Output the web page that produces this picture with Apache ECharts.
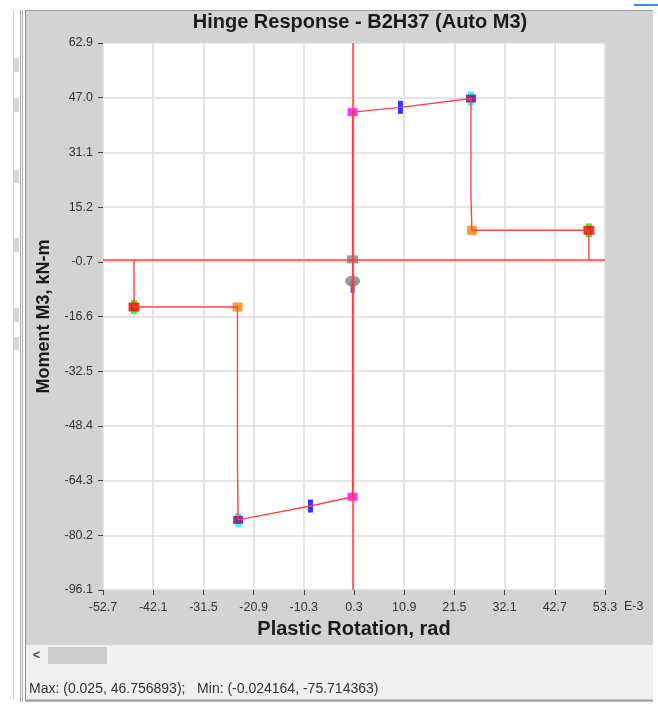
<!DOCTYPE html>
<html>
<head>
<meta charset="utf-8">
<title>Hinge Response - B2H37</title>
<script src="https://cdn.jsdelivr.net/npm/echarts@6/dist/echarts.min.js"></script>
<style>
  html, body { margin: 0; padding: 0; background: #fff; }
  #chart { width: 658px; height: 704px; }
</style>
</head>
<body>
<div id="chart"></div>
<script>
// 刻度 (x in E-3 rad, y in kN-m)
var xTicks = [-52.7, -42.1, -31.5, -20.9, -10.3, 0.3, 10.9, 21.5, 32.1, 42.7, 53.3];
var yTicks = [62.9, 47.0, 31.1, 15.2, -0.7, -16.6, -32.5, -48.4, -64.3, -80.2, -96.1];

// hinge path (rotation E-3, moment)
var hingePath = [
  [-46.15, 0], [-46.15, -13.84], [-24.3, -13.84], [-24.3, -59.8], [-24.164, -75.714],
  [-8.9, -71.7], [0, -69.0], [0, 42.8], [10.1, 44.2], [25.0, 46.757],
  [25.0, 18.1], [25.2, 8.45], [49.9, 8.45], [49.9, 0]
];

// point markers
var magentaPts = [[0, 42.8], [0, -69.0]];
var bluePts = [[10.1, 44.2], [-8.9, -71.7]];
var cyanPts = [[25.0, 46.757], [-24.164, -75.714]];
var purplePts = [[25.0, 46.757], [-24.164, -75.714]];
var orangePts = [[25.2, 8.45], [-24.3, -13.84]];
var greenPts = [[49.9, 8.45], [-46.15, -13.84]];
var redPts = [[49.9, 8.45], [-46.15, -13.84]];
var originPt = [[0, 0]];
var currentPt = [[0, -6.3]];
var currentBar = [[0, -8.0]];

var statusText = 'Max: (0.025, 46.756893);   Min: (-0.024164, -75.714363)';

var FONT = '"Liberation Sans", Arial, sans-serif';
var chart = echarts.init(document.getElementById('chart'));

function marker(data, color, size) {
  return {
    type: 'scatter',
    data: data,
    symbol: 'rect',
    symbolSize: size,
    itemStyle: { color: color },
    silent: true
  };
}

var option = {
  backgroundColor: '#d3d3d3',
  animation: false,
  title: {
    text: 'Hinge Response - B2H37 (Auto M3)',
    left: 355,
    top: 7,
    textAlign: 'center',
    textStyle: { fontFamily: FONT, fontSize: 20, fontWeight: 'bold', color: '#1a1a1a' }
  },
  grid: {
    left: 103, right: 53, top: 43, bottom: 114,
    show: true, backgroundColor: '#ffffff', borderWidth: 0
  },
  xAxis: {
    type: 'value',
    min: -52.7, max: 53.3,
    name: 'Plastic Rotation, rad',
    nameLocation: 'middle',
    nameGap: 29,
    nameTextStyle: { fontFamily: FONT, fontSize: 20, fontWeight: 'bold', color: '#1a1a1a' },
    axisLine: { show: false, onZero: false },
    axisTick: { show: true, length: 5, customValues: xTicks, lineStyle: { color: '#444' } },
    axisLabel: {
      customValues: xTicks, margin: 11,
      fontFamily: FONT, fontSize: 12.5, color: '#333',
      formatter: function (v) { return v.toFixed(1); }
    },
    splitLine: { show: true, lineStyle: { color: '#dcdcdc', width: 1.5 } }
  },
  yAxis: {
    type: 'value',
    min: -96.1, max: 62.9,
    name: 'Moment M3, kN-m',
    nameLocation: 'middle',
    nameGap: 50,
    nameTextStyle: { fontFamily: FONT, fontSize: 18, fontWeight: 'bold', color: '#1a1a1a' },
    axisLine: { show: false, onZero: false },
    axisTick: { show: true, length: 5, customValues: yTicks, lineStyle: { color: '#444' } },
    axisLabel: {
      customValues: yTicks, margin: 10,
      fontFamily: FONT, fontSize: 12.5, color: '#333',
      formatter: function (v) { return v.toFixed(1); }
    },
    splitLine: { show: true, lineStyle: { color: '#dcdcdc', width: 1.5 } }
  },
  series: [
    {
      type: 'line',
      data: hingePath,
      showSymbol: false,
      silent: true,
      lineStyle: { color: '#ff4444', width: 1.4 },
      markLine: {
        silent: true,
        symbol: ['none', 'none'],
        label: { show: false },
        lineStyle: { color: '#ff3b3b', width: 1.5, type: 'solid' },
        data: [{ xAxis: 0 }, { yAxis: 0 }]
      }
    },
    marker(cyanPts, '#00ffff', [6, 14]),
    marker(greenPts, '#00ff00', [6, 14]),
    marker(magentaPts, '#ff00ff', [10, 8]),
    marker(bluePts, '#0000ff', [5, 13]),
    marker(purplePts, '#800080', [10, 8]),
    marker(orangePts, '#ff8000', [10, 9]),
    marker(redPts, '#ff0000', [11, 9]),
    marker(originPt, '#808080', [11, 8]),
    marker(currentBar, '#3c1ccc', [4, 12]),
    {
      type: 'scatter',
      data: currentPt,
      symbol: 'circle',
      symbolSize: [15, 11],
      itemStyle: { color: '#808080' },
      silent: true
    }
  ],
  graphic: [
    // window chrome
    { type: 'rect', shape: { x: 0, y: 0, width: 658, height: 10 }, style: { fill: '#fff' } },
    { type: 'rect', shape: { x: 0, y: 0, width: 25, height: 704 }, style: { fill: '#fff' } },
    { type: 'rect', shape: { x: 653, y: 0, width: 5, height: 704 }, style: { fill: '#fff' } },
    { type: 'rect', shape: { x: 634, y: 4, width: 24, height: 2 }, style: { fill: '#3d8ee0' } },
    { type: 'line', shape: { x1: 25, y1: 10.5, x2: 653, y2: 10.5 }, style: { stroke: '#9a9a9a', lineWidth: 1 } },
    { type: 'line', shape: { x1: 13.5, y1: 10, x2: 13.5, y2: 700 }, style: { stroke: '#cfcfcf', lineWidth: 1 } },
    { type: 'line', shape: { x1: 20.5, y1: 10, x2: 20.5, y2: 704 }, style: { stroke: '#a8a8a8', lineWidth: 1 } },
    { type: 'line', shape: { x1: 22.5, y1: 10, x2: 22.5, y2: 704 }, style: { stroke: '#a8a8a8', lineWidth: 1 } },
    { type: 'line', shape: { x1: 25.5, y1: 10, x2: 25.5, y2: 700 }, style: { stroke: '#909090', lineWidth: 1 } },
    { type: 'rect', shape: { x: 14, y: 58, width: 5, height: 14 }, style: { fill: '#d6d6d6' } },
    { type: 'rect', shape: { x: 14, y: 98, width: 5, height: 14 }, style: { fill: '#d6d6d6' } },
    { type: 'rect', shape: { x: 14, y: 170, width: 5, height: 13 }, style: { fill: '#d6d6d6' } },
    { type: 'rect', shape: { x: 14, y: 238, width: 5, height: 14 }, style: { fill: '#d6d6d6' } },
    { type: 'rect', shape: { x: 14, y: 308, width: 5, height: 14 }, style: { fill: '#d6d6d6' } },
    { type: 'rect', shape: { x: 14, y: 337, width: 5, height: 13 }, style: { fill: '#d6d6d6' } },
    // scroll bar
    { type: 'rect', shape: { x: 26, y: 645, width: 627, height: 24 }, style: { fill: '#f0f0f0' } },
    { type: 'rect', shape: { x: 48, y: 647, width: 59, height: 17 }, style: { fill: '#cdcdcd' } },
    { type: 'text', x: 33, y: 656, style: { text: '<', fill: '#444', font: 'bold 12px ' + FONT, verticalAlign: 'middle' } },
    // status bar
    { type: 'rect', shape: { x: 26, y: 669, width: 627, height: 31 }, style: { fill: '#f0f0f0' } },
    { type: 'text', x: 29, y: 689, style: { text: statusText, fill: '#333', font: '14px ' + FONT, verticalAlign: 'middle' } },
    { type: 'line', shape: { x1: 25, y1: 700.5, x2: 653, y2: 700.5 }, style: { stroke: '#a0a0a0', lineWidth: 2 } },
    { type: 'rect', shape: { x: 0, y: 702, width: 658, height: 2 }, style: { fill: '#fff' } },
    // axis unit
    { type: 'text', x: 624, y: 607, style: { text: 'E-3', fill: '#333', font: '12.5px ' + FONT, verticalAlign: 'middle' } }
  ]
};

chart.setOption(option);
</script>
</body>
</html>
